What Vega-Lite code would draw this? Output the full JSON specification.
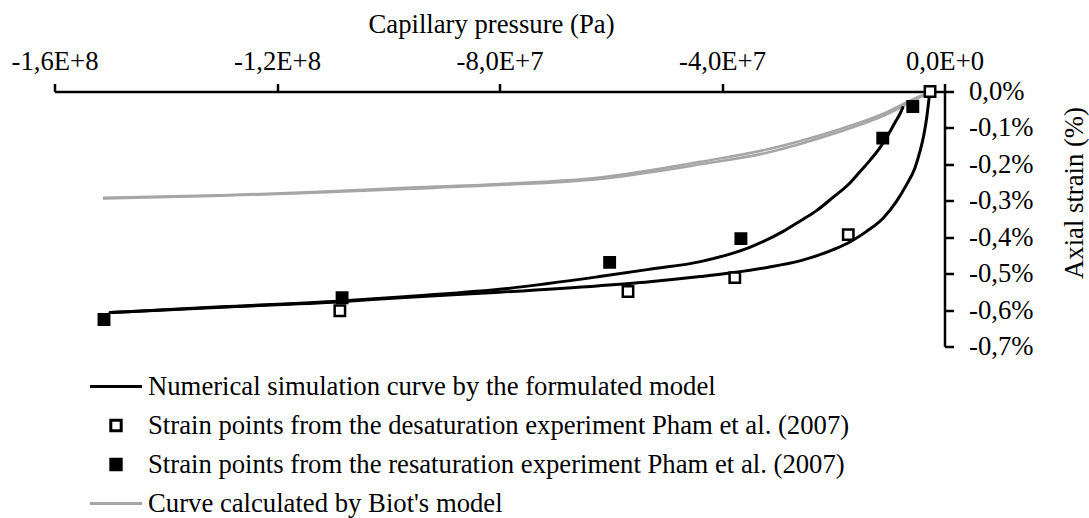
{
  "$schema": "https://vega.github.io/schema/vega-lite/v6.json",
  "width": 890,
  "height": 255,
  "autosize": {"type": "none"},
  "padding": {"left": 54.5, "top": 91.5, "right": 144.5, "bottom": 171.5},
  "background": "white",
  "config": {
    "font": "Liberation Serif",
    "view": {"stroke": null},
    "axis": {"grid": false, "domainColor": "black", "domainWidth": 2.5, "tickColor": "black", "tickWidth": 2.5, "labelColor": "black", "titleColor": "black", "labelFont": "Liberation Serif", "titleFont": "Liberation Serif", "labelFontSize": 26.7, "titleFontSize": 26.7, "titleFontWeight": "normal"},
    "legend": {"orient": "none", "legendX": 34, "legendY": 281.5, "padding": 0, "labelFont": "Liberation Serif", "labelFontSize": 26.7, "labelColor": "black", "labelLimit": 2000, "labelOffset": 4.5, "symbolSize": 2704, "symbolStrokeWidth": 3, "rowPadding": 11, "clipHeight": 27, "symbolLimit": 0}
  },
  "datasets": {
    "curves": [
      {"series": "Curve calculated by Biot's model", "branch": "b1", "p": -151100000, "strain": -0.292},
      {"series": "Curve calculated by Biot's model", "branch": "b1", "p": -130000000, "strain": -0.285},
      {"series": "Curve calculated by Biot's model", "branch": "b1", "p": -115700000, "strain": -0.277},
      {"series": "Curve calculated by Biot's model", "branch": "b1", "p": -97800000, "strain": -0.265},
      {"series": "Curve calculated by Biot's model", "branch": "b1", "p": -80000000, "strain": -0.254},
      {"series": "Curve calculated by Biot's model", "branch": "b1", "p": -62000000, "strain": -0.236},
      {"series": "Curve calculated by Biot's model", "branch": "b1", "p": -43900000, "strain": -0.193},
      {"series": "Curve calculated by Biot's model", "branch": "b1", "p": -31900000, "strain": -0.159},
      {"series": "Curve calculated by Biot's model", "branch": "b1", "p": -20000000, "strain": -0.109},
      {"series": "Curve calculated by Biot's model", "branch": "b1", "p": -11000000, "strain": -0.061},
      {"series": "Curve calculated by Biot's model", "branch": "b1", "p": -5600000, "strain": -0.021},
      {"series": "Curve calculated by Biot's model", "branch": "b1", "p": -3000000, "strain": -0.004},
      {"series": "Curve calculated by Biot's model", "branch": "b2", "p": -151100000, "strain": -0.294},
      {"series": "Curve calculated by Biot's model", "branch": "b2", "p": -130000000, "strain": -0.286},
      {"series": "Curve calculated by Biot's model", "branch": "b2", "p": -115700000, "strain": -0.279},
      {"series": "Curve calculated by Biot's model", "branch": "b2", "p": -97800000, "strain": -0.268},
      {"series": "Curve calculated by Biot's model", "branch": "b2", "p": -80000000, "strain": -0.257},
      {"series": "Curve calculated by Biot's model", "branch": "b2", "p": -62000000, "strain": -0.240},
      {"series": "Curve calculated by Biot's model", "branch": "b2", "p": -43900000, "strain": -0.200},
      {"series": "Curve calculated by Biot's model", "branch": "b2", "p": -31900000, "strain": -0.168},
      {"series": "Curve calculated by Biot's model", "branch": "b2", "p": -20000000, "strain": -0.116},
      {"series": "Curve calculated by Biot's model", "branch": "b2", "p": -11000000, "strain": -0.067},
      {"series": "Curve calculated by Biot's model", "branch": "b2", "p": -5600000, "strain": -0.026},
      {"series": "Curve calculated by Biot's model", "branch": "b2", "p": -3200000, "strain": -0.006},
      {"series": "Numerical simulation curve by the formulated model", "branch": "d", "p": -150000000, "strain": -0.607},
      {"series": "Numerical simulation curve by the formulated model", "branch": "d", "p": -130000000, "strain": -0.592},
      {"series": "Numerical simulation curve by the formulated model", "branch": "d", "p": -108600000, "strain": -0.577},
      {"series": "Numerical simulation curve by the formulated model", "branch": "d", "p": -97800000, "strain": -0.566},
      {"series": "Numerical simulation curve by the formulated model", "branch": "d", "p": -80000000, "strain": -0.551},
      {"series": "Numerical simulation curve by the formulated model", "branch": "d", "p": -62000000, "strain": -0.533},
      {"series": "Numerical simulation curve by the formulated model", "branch": "d", "p": -53000000, "strain": -0.522},
      {"series": "Numerical simulation curve by the formulated model", "branch": "d", "p": -43900000, "strain": -0.508},
      {"series": "Numerical simulation curve by the formulated model", "branch": "d", "p": -37900000, "strain": -0.497},
      {"series": "Numerical simulation curve by the formulated model", "branch": "d", "p": -31900000, "strain": -0.483},
      {"series": "Numerical simulation curve by the formulated model", "branch": "d", "p": -26000000, "strain": -0.465},
      {"series": "Numerical simulation curve by the formulated model", "branch": "d", "p": -20000000, "strain": -0.434},
      {"series": "Numerical simulation curve by the formulated model", "branch": "d", "p": -17000000, "strain": -0.413},
      {"series": "Numerical simulation curve by the formulated model", "branch": "d", "p": -14000000, "strain": -0.384},
      {"series": "Numerical simulation curve by the formulated model", "branch": "d", "p": -11000000, "strain": -0.347},
      {"series": "Numerical simulation curve by the formulated model", "branch": "d", "p": -8600000, "strain": -0.301},
      {"series": "Numerical simulation curve by the formulated model", "branch": "d", "p": -6800000, "strain": -0.255},
      {"series": "Numerical simulation curve by the formulated model", "branch": "d", "p": -5300000, "strain": -0.209},
      {"series": "Numerical simulation curve by the formulated model", "branch": "d", "p": -4400000, "strain": -0.164},
      {"series": "Numerical simulation curve by the formulated model", "branch": "d", "p": -3700000, "strain": -0.118},
      {"series": "Numerical simulation curve by the formulated model", "branch": "d", "p": -3200000, "strain": -0.072},
      {"series": "Numerical simulation curve by the formulated model", "branch": "d", "p": -2900000, "strain": -0.035},
      {"series": "Numerical simulation curve by the formulated model", "branch": "d", "p": -2650000, "strain": -0.002},
      {"series": "Numerical simulation curve by the formulated model", "branch": "r", "p": -150000000, "strain": -0.607},
      {"series": "Numerical simulation curve by the formulated model", "branch": "r", "p": -130000000, "strain": -0.591},
      {"series": "Numerical simulation curve by the formulated model", "branch": "r", "p": -108600000, "strain": -0.575},
      {"series": "Numerical simulation curve by the formulated model", "branch": "r", "p": -97800000, "strain": -0.564},
      {"series": "Numerical simulation curve by the formulated model", "branch": "r", "p": -80000000, "strain": -0.543},
      {"series": "Numerical simulation curve by the formulated model", "branch": "r", "p": -62000000, "strain": -0.508},
      {"series": "Numerical simulation curve by the formulated model", "branch": "r", "p": -53000000, "strain": -0.488},
      {"series": "Numerical simulation curve by the formulated model", "branch": "r", "p": -43900000, "strain": -0.467},
      {"series": "Numerical simulation curve by the formulated model", "branch": "r", "p": -34900000, "strain": -0.427},
      {"series": "Numerical simulation curve by the formulated model", "branch": "r", "p": -29000000, "strain": -0.384},
      {"series": "Numerical simulation curve by the formulated model", "branch": "r", "p": -26000000, "strain": -0.356},
      {"series": "Numerical simulation curve by the formulated model", "branch": "r", "p": -23000000, "strain": -0.327},
      {"series": "Numerical simulation curve by the formulated model", "branch": "r", "p": -20000000, "strain": -0.290},
      {"series": "Numerical simulation curve by the formulated model", "branch": "r", "p": -17000000, "strain": -0.251},
      {"series": "Numerical simulation curve by the formulated model", "branch": "r", "p": -15200000, "strain": -0.220},
      {"series": "Numerical simulation curve by the formulated model", "branch": "r", "p": -13400000, "strain": -0.189},
      {"series": "Numerical simulation curve by the formulated model", "branch": "r", "p": -11600000, "strain": -0.154},
      {"series": "Numerical simulation curve by the formulated model", "branch": "r", "p": -10100000, "strain": -0.118},
      {"series": "Numerical simulation curve by the formulated model", "branch": "r", "p": -8900000, "strain": -0.085},
      {"series": "Numerical simulation curve by the formulated model", "branch": "r", "p": -8000000, "strain": -0.061},
      {"series": "Numerical simulation curve by the formulated model", "branch": "r", "p": -7500000, "strain": -0.044}
    ],
    "points": [
      {"series": "Strain points from the desaturation experiment Pham et al. (2007)", "p": -2600000, "strain": 0.0},
      {"series": "Strain points from the desaturation experiment Pham et al. (2007)", "p": -17300000, "strain": -0.393},
      {"series": "Strain points from the desaturation experiment Pham et al. (2007)", "p": -37700000, "strain": -0.511},
      {"series": "Strain points from the desaturation experiment Pham et al. (2007)", "p": -56900000, "strain": -0.549},
      {"series": "Strain points from the desaturation experiment Pham et al. (2007)", "p": -108700000, "strain": -0.602},
      {"series": "Strain points from the resaturation experiment Pham et al. (2007)", "p": -5700000, "strain": -0.041},
      {"series": "Strain points from the resaturation experiment Pham et al. (2007)", "p": -11100000, "strain": -0.128},
      {"series": "Strain points from the resaturation experiment Pham et al. (2007)", "p": -36600000, "strain": -0.404},
      {"series": "Strain points from the resaturation experiment Pham et al. (2007)", "p": -60200000, "strain": -0.469},
      {"series": "Strain points from the resaturation experiment Pham et al. (2007)", "p": -108300000, "strain": -0.566},
      {"series": "Strain points from the resaturation experiment Pham et al. (2007)", "p": -151100000, "strain": -0.626}
    ]
  },
  "encoding": {
    "x": {
      "field": "p", "type": "quantitative",
      "scale": {"domain": [-160000000, 0], "nice": false, "zero": false},
      "axis": {
        "orient": "top", "title": "Capillary pressure (Pa)",
        "values": [-160000000, -120000000, -80000000, -40000000, 0],
        "labelExpr": "replace(replace(replace(format(datum.value, '.1e'), '.', ','), 'e', 'E'), '\u2212', '-')",
        "tickSize": 8, "labelPadding": 8, "labelFlush": false, "labelOverlap": false,
        "titleX": 436.5, "titleY": -59, "titleAlign": "center", "titleBaseline": "alphabetic", "titleAnchor": null
      }
    },
    "y": {
      "field": "strain", "type": "quantitative",
      "scale": {"domain": [-0.7, 0], "nice": false, "zero": false},
      "axis": {
        "orient": "right", "title": "Axial strain (%)",
        "values": [0, -0.1, -0.2, -0.3, -0.4, -0.5, -0.6, -0.7],
        "labelExpr": "replace(replace(format(datum.value, '.1f'), '.', ','), '\u2212', '-') + '%'",
        "tickSize": 9, "labelPadding": 15, "labelFlush": false, "labelOverlap": false,
        "titleAngle": 270, "titleX": 130, "titleY": 101, "titleAlign": "center", "titleBaseline": "middle"
      }
    }
  },
  "layer": [
    {
      "data": {"name": "curves"},
      "mark": {"type": "line", "interpolate": "monotone", "strokeCap": "round"},
      "encoding": {
        "stroke": {
          "field": "series", "type": "nominal",
          "scale": {
            "domain": ["Numerical simulation curve by the formulated model", "Strain points from the desaturation experiment Pham et al. (2007)", "Strain points from the resaturation experiment Pham et al. (2007)", "Curve calculated by Biot's model"],
            "range": ["#000000", "#000000", "#000000", "#a6a6a6"]
          },
          "legend": {"title": null, "encode": {"symbols": {"update": {"fill": {"scale": "fill", "field": "value"}, "stroke": {"scale": "stroke", "field": "value"}, "shape": {"scale": "shape", "field": "value"}, "strokeWidth": {"value": 3}, "size": {"value": 2704}, "opacity": {"value": 1}}}}}
        },
        "detail": {"field": "branch", "type": "nominal"},
        "strokeWidth": {"condition": {"test": "datum.series === \"Curve calculated by Biot's model\"", "value": 2.5}, "value": 3}
      }
    },
    {
      "data": {"name": "points"},
      "mark": {"type": "point", "filled": true, "opacity": 1, "size": 2704, "strokeWidth": 2.5},
      "encoding": {
        "stroke": {
          "field": "series", "type": "nominal",
          "scale": {
            "domain": ["Numerical simulation curve by the formulated model", "Strain points from the desaturation experiment Pham et al. (2007)", "Strain points from the resaturation experiment Pham et al. (2007)", "Curve calculated by Biot's model"],
            "range": ["#000000", "#000000", "#000000", "#a6a6a6"]
          },
          "legend": {"title": null, "encode": {"symbols": {"update": {"fill": {"scale": "fill", "field": "value"}, "stroke": {"scale": "stroke", "field": "value"}, "shape": {"scale": "shape", "field": "value"}, "strokeWidth": {"value": 3}, "size": {"value": 2704}, "opacity": {"value": 1}}}}}
        },
        "fill": {
          "field": "series", "type": "nominal",
          "scale": {
            "domain": ["Numerical simulation curve by the formulated model", "Strain points from the desaturation experiment Pham et al. (2007)", "Strain points from the resaturation experiment Pham et al. (2007)", "Curve calculated by Biot's model"],
            "range": ["#ffffff", "#ffffff", "#000000", "#ffffff"]
          },
          "legend": {"title": null, "encode": {"symbols": {"update": {"fill": {"scale": "fill", "field": "value"}, "stroke": {"scale": "stroke", "field": "value"}, "shape": {"scale": "shape", "field": "value"}, "strokeWidth": {"value": 3}, "size": {"value": 2704}, "opacity": {"value": 1}}}}}
        },
        "shape": {
          "field": "series", "type": "nominal",
          "scale": {
            "domain": ["Numerical simulation curve by the formulated model", "Strain points from the desaturation experiment Pham et al. (2007)", "Strain points from the resaturation experiment Pham et al. (2007)", "Curve calculated by Biot's model"],
            "range": ["M-1,0H1", "M-0.2,-0.2H0.2V0.2H-0.2Z", "M-0.2,-0.2H0.2V0.2H-0.2Z", "M-1,0H1"]
          },
          "legend": {"title": null, "encode": {"symbols": {"update": {"fill": {"scale": "fill", "field": "value"}, "stroke": {"scale": "stroke", "field": "value"}, "shape": {"scale": "shape", "field": "value"}, "strokeWidth": {"value": 3}, "size": {"value": 2704}, "opacity": {"value": 1}}}}}
        }
      }
    }
  ]
}
